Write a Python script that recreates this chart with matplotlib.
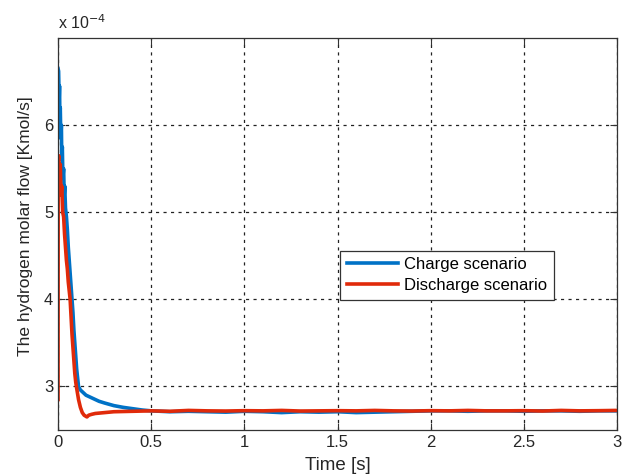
import matplotlib
matplotlib.use('Agg')
from matplotlib import pyplot as plt

plt.rcParams['font.family'] = ['Liberation Sans', 'DejaVu Sans']

# hydrogen molar flow, in units of 1e-4 Kmol/s
t_charge = [0, 0.003, 0.006, 0.008, 0.010, 0.012, 0.015, 0.018, 0.020, 0.023,
            0.026, 0.030, 0.033, 0.036, 0.040, 0.045, 0.050, 0.055, 0.060, 0.065,
            0.070, 0.075, 0.080, 0.085, 0.090, 0.095, 0.100, 0.105, 0.110, 0.120,
            0.130, 0.140, 0.150, 0.170, 0.190, 0.220, 0.250, 0.300, 0.350, 0.400,
            0.450, 0.5, 0.6, 0.7, 0.8, 0.9, 1.0, 1.1, 1.2, 1.3, 1.4, 1.5, 1.6, 1.7,
            1.8, 1.9, 2.0, 2.1, 2.2, 2.3, 2.4, 2.5, 2.6, 2.7, 2.8, 2.9, 3.0]
q_charge = [6.65, 6.62, 6.30, 6.45, 6.05, 6.20, 5.85, 6.00, 5.60, 5.75,
            5.40, 5.50, 5.20, 5.30, 5.05, 4.95, 4.80, 4.60, 4.45, 4.30,
            4.15, 4.00, 3.85, 3.65, 3.50, 3.35, 3.20, 3.10, 3.00, 2.96,
            2.94, 2.92, 2.90, 2.88, 2.86, 2.83, 2.81, 2.78, 2.76, 2.745,
            2.73, 2.72, 2.71, 2.715, 2.71, 2.705, 2.715, 2.71, 2.70, 2.71, 2.705,
            2.71, 2.70, 2.705, 2.71, 2.715, 2.72, 2.72, 2.715, 2.72, 2.72,
            2.715, 2.72, 2.72, 2.715, 2.72, 2.72]

t_discharge = [0, 0.001, 0.004, 0.008, 0.012, 0.016, 0.020, 0.025, 0.030, 0.035,
               0.040, 0.045, 0.050, 0.055, 0.060, 0.065, 0.070, 0.075, 0.080, 0.085,
               0.090, 0.095, 0.100, 0.110, 0.120, 0.130, 0.140, 0.155, 0.165, 0.180,
               0.200, 0.250, 0.300, 0.400, 0.5, 0.6, 0.7, 0.8, 0.9, 1.0, 1.1, 1.2,
               1.3, 1.4, 1.5, 1.6, 1.7, 1.8, 1.9, 2.0, 2.1, 2.2, 2.3, 2.4, 2.5, 2.6,
               2.7, 2.8, 2.9, 3.0]
q_discharge = [2.85, 5.60, 5.65, 5.40, 5.55, 5.20, 5.30, 5.00, 4.95, 4.75,
               4.60, 4.45, 4.35, 4.20, 4.10, 4.00, 3.80, 3.60, 3.45, 3.30,
               3.15, 3.05, 2.98, 2.85, 2.76, 2.70, 2.67, 2.65, 2.67, 2.68,
               2.69, 2.70, 2.71, 2.715, 2.72, 2.715, 2.725, 2.72, 2.718, 2.722, 2.72,
               2.725, 2.718, 2.72, 2.722, 2.72, 2.725, 2.72, 2.718, 2.722, 2.72,
               2.725, 2.72, 2.72, 2.722, 2.718, 2.725, 2.72, 2.722, 2.725]

x_ticks = [0, 0.5, 1, 1.5, 2, 2.5, 3]
x_labels = ['0', '0.5', '1', '1.5', '2', '2.5', '3']
y_ticks = [3, 4, 5, 6]

fig = plt.figure(figsize=(6.26, 4.76), dpi=100)
ax = fig.add_axes([0.0927, 0.0966, 0.893, 0.8234])

ax.plot(t_charge, q_charge, color='#0072C6', lw=2.6, label='Charge scenario')
ax.plot(t_discharge, q_discharge, color='#E02A0A', lw=2.6, label='Discharge scenario')

ax.set_xlim(0, 3)
ax.set_ylim(2.5, 7)
ax.set_xticks(x_ticks, x_labels)
ax.set_yticks(y_ticks)
ax.tick_params(direction='in', top=True, right=True, length=5, width=0.8,
               labelsize=12, colors='#333333', labelcolor='#262626')
for s in ax.spines.values():
    s.set_color('#333333')
    s.set_linewidth(0.9)

ax.grid(True, color='#222222', linestyle=(0, (2.5, 3.5)), linewidth=0.9)

ax.set_xlabel('Time [s]', fontsize=13.5, color='#262626', labelpad=5)
ax.set_ylabel('The hydrogen molar flow [Kmol/s]', fontsize=12.5, color='#262626')
ax.yaxis.set_label_coords(-0.045, 0.52)
ax.text(0, 1.015, 'x 10$^{-4}$', transform=ax.transAxes, fontsize=11.5,
        color='#262626', ha='left', va='bottom')

leg = ax.legend(loc='center', bbox_to_anchor=(0.696, 0.395),
                fontsize=12, fancybox=False, framealpha=1,
                edgecolor='#333333', handlelength=3.1, handletextpad=0.35,
                borderpad=0.4, labelspacing=0.35)
leg.get_frame().set_linewidth(0.9)

plt.savefig('out.png', dpi=100)
